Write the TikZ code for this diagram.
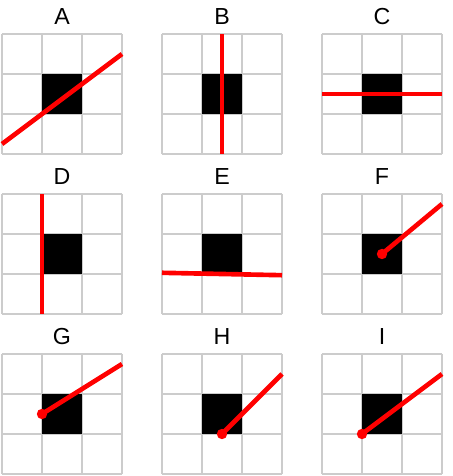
\documentclass[tikz,border=0pt]{standalone}
\usepackage{fontspec}
\setmainfont{Liberation Sans}
\usepackage{tikz}
\definecolor{gridgray}{RGB}{204,204,204}
\tikzset{
  cellgrid/.style={draw=gridgray,line width=0.75pt},
  blk/.style={fill=black},
  redl/.style={draw=red,line width=3.3pt},
  pin/.style={circle,fill=red,inner sep=0pt,minimum size=0.26cm},
  ttl/.style={font=\fontsize{16.5}{20}\selectfont,anchor=base},
}
\begin{document}
\begin{tikzpicture}[x=1cm,y=1cm]
  \useasboundingbox (0,0) rectangle (11.325,11.9);
  % row 1
  \begin{scope}[shift={(0.05,8.05)}]
    \draw[cellgrid] (0,0) grid (3,3);
    \fill[blk] (1,1) rectangle (2,2);
    \coordinate (a0) at (0,0.25);
    \coordinate (a1) at (3,2.5);
    \draw[redl] (a0) -- (a1);
    \node[ttl] (ta) at (1.5,3.225) {A};
  \end{scope}
  \begin{scope}[shift={(4.05,8.05)}]
    \draw[cellgrid] (0,0) grid (3,3);
    \fill[blk] (1,1) rectangle (2,2);
    \coordinate (b0) at (1.5,0);
    \coordinate (b1) at (1.5,3);
    \draw[redl] (b0) -- (b1);
    \node[ttl] (tb) at (1.5,3.225) {B};
  \end{scope}
  \begin{scope}[shift={(8.05,8.05)}]
    \draw[cellgrid] (0,0) grid (3,3);
    \fill[blk] (1,1) rectangle (2,2);
    \coordinate (c0) at (0,1.5);
    \coordinate (c1) at (3,1.5);
    \draw[redl] (c0) -- (c1);
    \node[ttl] (tc) at (1.5,3.225) {C};
  \end{scope}
  % row 2
  \begin{scope}[shift={(0.05,4.05)}]
    \draw[cellgrid] (0,0) grid (3,3);
    \fill[blk] (1,1) rectangle (2,2);
    \coordinate (d0) at (1,0);
    \coordinate (d1) at (1,3);
    \draw[redl] (d0) -- (d1);
    \node[ttl] (td) at (1.5,3.225) {D};
  \end{scope}
  \begin{scope}[shift={(4.05,4.05)}]
    \draw[cellgrid] (0,0) grid (3,3);
    \fill[blk] (1,1) rectangle (2,2);
    \coordinate (e0) at (0,1.03);
    \coordinate (e1) at (3,0.97);
    \draw[redl] (e0) -- (e1);
    \node[ttl] (te) at (1.5,3.225) {E};
  \end{scope}
  \begin{scope}[shift={(8.05,4.05)}]
    \draw[cellgrid] (0,0) grid (3,3);
    \fill[blk] (1,1) rectangle (2,2);
    \node[pin] (f0) at (1.5,1.5) {};
    \coordinate (f1) at (3,2.75);
    \draw[redl] (f0.center) -- (f1);
    \node[ttl] (tf) at (1.5,3.225) {F};
  \end{scope}
  % row 3
  \begin{scope}[shift={(0.05,0.05)}]
    \draw[cellgrid] (0,0) grid (3,3);
    \fill[blk] (1,1) rectangle (2,2);
    \node[pin] (g0) at (1,1.5) {};
    \coordinate (g1) at (3,2.75);
    \draw[redl] (g0.center) -- (g1);
    \node[ttl] (tg) at (1.5,3.225) {G};
  \end{scope}
  \begin{scope}[shift={(4.05,0.05)}]
    \draw[cellgrid] (0,0) grid (3,3);
    \fill[blk] (1,1) rectangle (2,2);
    \node[pin] (h0) at (1.5,1) {};
    \coordinate (h1) at (3,2.5);
    \draw[redl] (h0.center) -- (h1);
    \node[ttl] (th) at (1.5,3.225) {H};
  \end{scope}
  \begin{scope}[shift={(8.05,0.05)}]
    \draw[cellgrid] (0,0) grid (3,3);
    \fill[blk] (1,1) rectangle (2,2);
    \node[pin] (i0) at (1,1) {};
    \coordinate (i1) at (3,2.5);
    \draw[redl] (i0.center) -- (i1);
    \node[ttl] (ti) at (1.5,3.225) {I};
  \end{scope}
\end{tikzpicture}
\end{document}
